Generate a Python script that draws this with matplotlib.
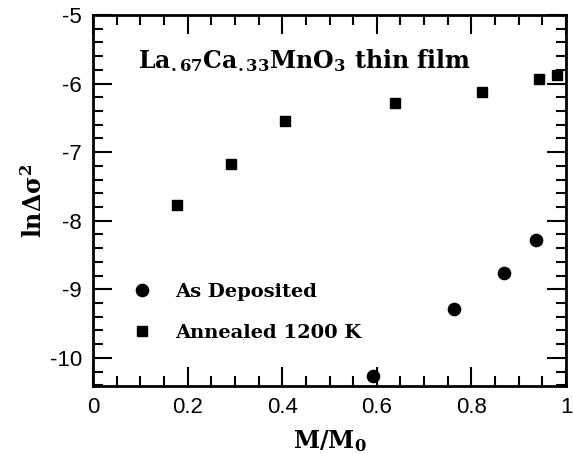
import matplotlib
matplotlib.use("Agg")
import matplotlib.pyplot as plt
from matplotlib.ticker import MultipleLocator

# values
as_dep_x = [0.593, 0.764, 0.869, 0.937]
as_dep_y = [-10.26, -9.29, -8.76, -8.28]

annealed_x = [0.178, 0.292, 0.405, 0.638, 0.822, 0.943, 0.980]
annealed_y = [-7.77, -7.18, -6.55, -6.29, -6.12, -5.94, -5.87]

x_ticks = [0, 0.2, 0.4, 0.6, 0.8, 1]
x_tick_labels = ["0", "0.2", "0.4", "0.6", "0.8", "1"]
y_ticks = [-10, -9, -8, -7, -6, -5]
y_tick_labels = ["-10", "-9", "-8", "-7", "-6", "-5"]

plt.rcParams["mathtext.fontset"] = "dejavuserif"

fig = plt.figure(figsize=(5.73, 4.54), dpi=100)
ax = fig.add_axes([0.1623, 0.1498, 0.8255, 0.8172])

ax.plot(as_dep_x, as_dep_y, "o", color="black", markersize=8.8, label="As Deposited")
ax.plot(annealed_x, annealed_y, "s", color="black", markersize=6.5, label="Annealed 1200 K")

ax.set_xlim(0, 1)
ax.set_ylim(-10.41, -5)
ax.set_xticks(x_ticks)
ax.set_xticklabels(x_tick_labels)
ax.set_yticks(y_ticks)
ax.set_yticklabels(y_tick_labels)
ax.xaxis.set_minor_locator(MultipleLocator(0.05))
ax.yaxis.set_minor_locator(MultipleLocator(0.2))

ax.tick_params(which="both", direction="in", top=True, right=True, width=1.5)
ax.tick_params(which="major", length=14, pad=8)
ax.tick_params(which="minor", length=7)
for lab in ax.get_xticklabels() + ax.get_yticklabels():
    lab.set_family("Liberation Sans")
    lab.set_fontsize(16)
for sp in ax.spines.values():
    sp.set_linewidth(2)

ax.set_xlabel(r"$\mathbf{M/M_0}$", fontsize=17, labelpad=7)
ax.set_ylabel(r"$\mathbf{ln\Delta\sigma^2}$", fontsize=17, labelpad=2)

# title block inside the axes
ax.text(0.095, 0.878, r"$\mathbf{La_{.67}Ca_{.33}MnO_3}$ thin film", transform=ax.transAxes,
        fontsize=17, fontweight="bold", family="DejaVu Serif", va="center", ha="left")

leg = ax.legend(loc="upper left", bbox_to_anchor=(0.0825, 0.277), frameon=False,
                numpoints=1, handlelength=1.0, handletextpad=1.2, labelspacing=1.15,
                borderaxespad=0, borderpad=0,
                prop={"family": "DejaVu Serif", "weight": "bold", "size": 14})

fig.savefig("out.png", dpi=100)
